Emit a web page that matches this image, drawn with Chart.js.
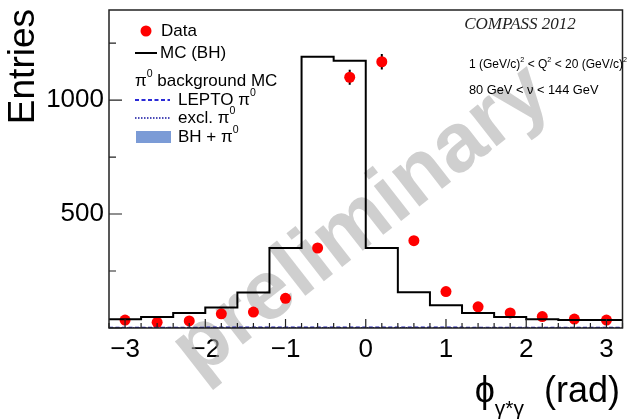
<!DOCTYPE html>
<html>
<head>
<meta charset="utf-8">
<script src="https://cdn.jsdelivr.net/npm/chart.js@4.4.1/dist/chart.umd.min.js"></script>
<style>
  html, body { margin: 0; padding: 0; background: #fff; }
  #wrap { width: 628px; height: 419px; position: relative; }
</style>
</head>
<body>
<div id="wrap"><canvas id="phi-plot"></canvas></div>
<script>
// bin edges of the histogram (rad)
const binEdges = [-3.2, -2.8, -2.4, -2.0, -1.6, -1.2, -0.8, -0.4, 0.0, 0.4, 0.8, 1.2, 1.6, 2.0, 2.4, 2.8, 3.2];
// MC (BH) contents per bin
const mcBH = [35, 38, 48, 66, 90, 156, 351, 1190, 1172, 351, 157, 100, 66, 48, 38, 35];
// pi0 background MC (barely above zero)
const leptoPi0 = [2, 2, 2, 2, 3, 3, 3, 3, 3, 3, 3, 3, 2, 2, 2, 2];
const exclPi0 = [1, 1, 1, 1, 1, 2, 2, 2, 2, 2, 2, 1, 1, 1, 1, 1];
// data points
const dataX = [-3.0, -2.6, -2.2, -1.8, -1.4, -1.0, -0.6, -0.2, 0.2, 0.6, 1.0, 1.4, 1.8, 2.2, 2.6, 3.0];
const dataY = [35, 25, 31, 62, 70, 130, 351, 1100, 1168, 383, 160, 93, 66, 50, 39, 35];
const dataErr = [6, 5, 6, 8, 8, 11, 19, 33, 34, 20, 13, 10, 8, 7, 6, 6];
// axis ticks
const xTickLabels = [-3, -2, -1, 0, 1, 2, 3];
const yTickLabels = [500, 1000];

const SANS = '"Liberation Sans", Arial, sans-serif';

function histPoints(values) {
    return binEdges.map(function (e, i) {
        return { x: e, y: values[Math.min(i, values.length - 1)] };
    });
}

// draws a run of text pieces, some as superscript / subscript
function richText(ctx, x, y, parts, size, align, supScale) {
    const ss = supScale || 0.62;
    let total = 0;
    parts.forEach(function (p) {
        const s = p.sup || p.sub ? size * ss : size;
        ctx.font = (p.size || s) + 'px ' + (p.family || SANS);
        p._w = ctx.measureText(p.t).width;
        total += p._w;
    });
    let cx = align === 'right' ? x - total : x;
    parts.forEach(function (p) {
        const s = p.sup || p.sub ? size * ss : size;
        ctx.font = (p.size || s) + 'px ' + (p.family || SANS);
        let dy = 0;
        if (p.sup) dy = -size * 0.42;
        if (p.sub) dy = p.dy || size * 0.3;
        ctx.fillText(p.t, cx, y + dy);
        cx += p._w;
    });
}

const rootStyle = {
    id: 'rootStyle',
    beforeDatasetsDraw: function (chart) {
        const ctx = chart.ctx;
        ctx.save();
        ctx.translate(362, 222);
        ctx.rotate(-38 * Math.PI / 180);
        ctx.font = 'bold 84px ' + SANS;
        ctx.fillStyle = 'rgba(175, 175, 175, 0.6)';
        ctx.textAlign = 'center';
        ctx.textBaseline = 'middle';
        ctx.fillText('preliminary', 0, 0);
        ctx.restore();
    },
    beforeDatasetDraw: function (chart, args) {
        if (args.index !== 3) return;
        const ctx = chart.ctx;
        const xs = chart.scales.x, ys = chart.scales.y;
        ctx.save();
        ctx.strokeStyle = '#000';
        ctx.lineWidth = 2;
        dataX.forEach(function (v, i) {
            const px = xs.getPixelForValue(v);
            ctx.beginPath();
            ctx.moveTo(px, ys.getPixelForValue(dataY[i] - dataErr[i]));
            ctx.lineTo(px, ys.getPixelForValue(dataY[i] + dataErr[i]));
            ctx.stroke();
        });
        ctx.restore();
    },
    afterDraw: function (chart) {
        const ctx = chart.ctx;
        const a = chart.chartArea;
        const xs = chart.scales.x, ys = chart.scales.y;
        ctx.save();

        // frame
        ctx.strokeStyle = '#222';
        ctx.lineWidth = 1.5;
        ctx.strokeRect(a.left, a.top, a.right - a.left, a.bottom - a.top);

        // x ticks, inside
        ctx.lineWidth = 1.2;
        ctx.beginPath();
        for (let k = -16; k <= 16; k++) {
            const v = k * 0.2;
            const px = xs.getPixelForValue(v);
            const len = k % 5 === 0 ? 9 : 5;
            ctx.moveTo(px, a.bottom);
            ctx.lineTo(px, a.bottom - len);
        }
        // y ticks, inside
        for (let v = 0; v <= 1250; v += 250) {
            const py = ys.getPixelForValue(v);
            const len = v % 500 === 0 ? 13 : 7;
            ctx.moveTo(a.left, py);
            ctx.lineTo(a.left + len, py);
        }
        ctx.stroke();

        // y title
        ctx.save();
        ctx.translate(34, 9);
        ctx.rotate(-Math.PI / 2);
        ctx.font = '37px ' + SANS;
        ctx.fillStyle = '#000';
        ctx.textAlign = 'right';
        ctx.textBaseline = 'alphabetic';
        ctx.fillText('Entries', 0, 0);
        ctx.restore();

        // x title
        ctx.fillStyle = '#000';
        ctx.textBaseline = 'alphabetic';
        ctx.textAlign = 'left';
        richText(ctx, 620, 402, [
            { t: '\u03d5' },
            { t: 'γ*γ', sub: true, size: 21, dy: 13 },
            { t: '  (rad)' }
        ], 36, 'right');

        // legend
        ctx.textBaseline = 'middle';
        ctx.fillStyle = '#ff0000';
        ctx.beginPath();
        ctx.arc(146, 31, 5.5, 0, Math.PI * 2);
        ctx.fill();
        ctx.fillStyle = '#000';
        ctx.font = '17px ' + SANS;
        ctx.fillText('Data', 161, 31);

        ctx.strokeStyle = '#000';
        ctx.lineWidth = 2;
        ctx.beginPath();
        ctx.moveTo(135, 53);
        ctx.lineTo(157, 53);
        ctx.stroke();
        ctx.fillText('MC (BH)', 160, 53);

        richText(ctx, 135, 81, [{ t: 'π' }, { t: '0', sup: true }, { t: ' background MC' }], 17);

        ctx.strokeStyle = '#2a2ad6';
        ctx.lineWidth = 2;
        ctx.setLineDash([4, 2.5]);
        ctx.beginPath();
        ctx.moveTo(135, 100);
        ctx.lineTo(170, 100);
        ctx.stroke();
        ctx.strokeStyle = '#1010a0';
        ctx.lineWidth = 1.5;
        ctx.setLineDash([1.5, 1.5]);
        ctx.beginPath();
        ctx.moveTo(135, 118);
        ctx.lineTo(170, 118);
        ctx.stroke();
        ctx.setLineDash([]);
        ctx.fillStyle = '#7b9bd6';
        ctx.fillRect(136, 131, 35, 12);
        ctx.fillStyle = '#000';
        richText(ctx, 178, 100, [{ t: 'LEPTO π' }, { t: '0', sup: true }], 17);
        richText(ctx, 178, 118, [{ t: 'excl. π' }, { t: '0', sup: true }], 17);
        richText(ctx, 178, 137, [{ t: 'BH + π' }, { t: '0', sup: true }], 17);

        // labels on the right
        ctx.fillStyle = '#222';
        ctx.textAlign = 'center';
        ctx.font = 'italic 17px "Liberation Serif", "Times New Roman", serif';
        ctx.fillText('COMPASS 2012', 520, 25);
        ctx.textAlign = 'left';
        ctx.fillStyle = '#000';
        richText(ctx, 469, 65, [
            { t: '1 (GeV/c)' }, { t: '2', sup: true }, { t: ' < Q' }, { t: '2', sup: true },
            { t: ' < 20 (GeV/c)' }, { t: '2', sup: true }
        ], 12, 'left', 0.6);
        richText(ctx, 469, 90, [{ t: '80 GeV < ν < 144 GeV' }], 12.8);

        ctx.restore();
    }
};

const canvas = document.getElementById('phi-plot');
canvas.width = 628;
canvas.height = 419;

new Chart(canvas.getContext('2d'), {
    type: 'line',
    data: {
        datasets: [
            {
                label: 'MC (BH)',
                data: histPoints(mcBH),
                stepped: 'after',
                borderColor: '#000',
                borderWidth: 2,
                pointRadius: 0,
                fill: false
            },
            {
                label: 'LEPTO π0',
                data: histPoints(leptoPi0),
                stepped: 'after',
                borderColor: '#1e1eb0',
                borderWidth: 1.8,
                borderDash: [4, 2.5],
                pointRadius: 0,
                fill: false
            },
            {
                label: 'excl. π0',
                data: histPoints(exclPi0),
                stepped: 'after',
                borderColor: '#1010a0',
                borderWidth: 1.2,
                borderDash: [1.5, 1.5],
                pointRadius: 0,
                fill: false
            },
            {
                label: 'Data',
                type: 'scatter',
                data: dataX.map(function (v, i) { return { x: v, y: dataY[i] }; }),
                backgroundColor: '#ff0000',
                borderColor: '#ff0000',
                pointRadius: 5.5,
                pointHoverRadius: 5.5,
                borderWidth: 0
            }
        ]
    },
    options: {
        responsive: false,
        animation: false,
        events: [],
        layout: { padding: { top: 10, right: 5, left: 0, bottom: 0 } },
        scales: {
            x: {
                type: 'linear',
                min: -3.2,
                max: 3.2,
                grid: { display: false, drawTicks: false },
                border: { display: false },
                afterBuildTicks: function (scale) {
                    scale.ticks = xTickLabels.map(function (v) { return { value: v }; });
                },
                afterFit: function (scale) {
                    scale.height = 91;
                    scale.paddingLeft = 0;
                    scale.paddingRight = 0;
                },
                ticks: {
                    autoSkip: false,
                    maxRotation: 0,
                    padding: 6,
                    color: '#000',
                    font: { family: SANS, size: 26 },
                    callback: function (value) {
                        return value < 0 ? '\u2212' + Math.abs(value) : String(value);
                    }
                }
            },
            y: {
                min: 0,
                max: 1395,
                grid: { display: false, drawTicks: false },
                border: { display: false },
                afterBuildTicks: function (scale) {
                    scale.ticks = yTickLabels.map(function (v) { return { value: v }; });
                },
                afterFit: function (scale) {
                    scale.width = 109;
                    scale.paddingTop = 0;
                    scale.paddingBottom = 0;
                },
                ticks: {
                    padding: 5,
                    color: '#000',
                    font: { family: SANS, size: 26 },
                    callback: function (value) { return String(value); }
                }
            }
        },
        plugins: {
            legend: { display: false },
            tooltip: { enabled: false }
        }
    },
    plugins: [rootStyle]
});
</script>
</body>
</html>
